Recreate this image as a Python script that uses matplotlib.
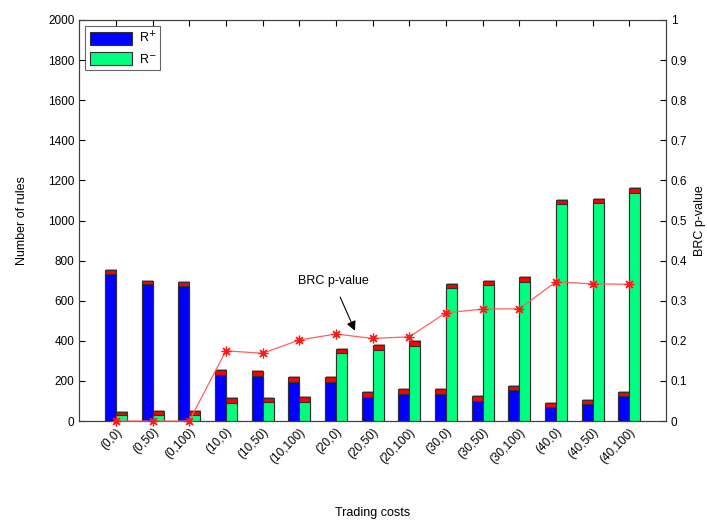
import matplotlib
matplotlib.use("Agg")
import matplotlib.pyplot as plt
import numpy as np

plt.rcParams['font.family'] = ['Liberation Sans', 'DejaVu Sans']

cost_labels = ['(0,0)', '(0,50)', '(0,100)', '(10,0)', '(10,50)', '(10,100)',
               '(20,0)', '(20,50)', '(20,100)', '(30,0)', '(30,50)', '(30,100)',
               '(40,0)', '(40,50)', '(40,100)']
pos_rules = [733, 682, 673, 230, 227, 193, 195, 120, 135, 135, 102, 153, 70, 85, 123]
pos_total = [753, 700, 693, 255, 250, 218, 218, 143, 160, 160, 123, 173, 88, 107, 143]
neg_rules = [30, 30, 31, 88, 93, 93, 337, 355, 373, 663, 677, 693, 1083, 1088, 1138]
neg_total = [43, 48, 48, 113, 117, 120, 357, 378, 400, 685, 697, 717, 1100, 1108, 1160]
brc_p = [0, 0, 0, 0.175, 0.169, 0.202, 0.217, 0.206, 0.21, 0.27, 0.279, 0.28,
         0.347, 0.342, 0.341]

x = np.arange(1, len(cost_labels) + 1)
w = 0.3
edge = '#303030'

fig = plt.figure(figsize=(7.07, 5.25), dpi=100)
ax = fig.add_axes([0.112, 0.198, 0.83, 0.764])

# shadows, red caps, then the coloured parts
for off, tot in [(-w / 2, pos_total), (w / 2, neg_total)]:
    ax.bar(x + off + 0.025, np.array(tot) + 5, w, color='#a8a8a8', zorder=1)
    ax.bar(x + off, tot, w, color='#ff0000', edgecolor=edge, linewidth=0.8, zorder=2)
ax.bar(x - w / 2, pos_rules, w, color='#0000ff', edgecolor=edge, linewidth=0.8,
       zorder=3, label='R$^{+}$')
ax.bar(x + w / 2, neg_rules, w, color='#00ff80', edgecolor=edge, linewidth=0.8,
       zorder=3, label='R$^{-}$')

ax.set_xlim(0, 16)
ax.set_ylim(0, 2000)
ax.set_yticks(np.arange(0, 2001, 200))
ax.set_xticks(x)
ax.set_xticklabels(cost_labels, rotation=45, ha='right', rotation_mode='anchor')
ax.tick_params(direction='in', labelsize=8.5, top=True, length=4)
ax.set_ylabel('Number of rules', fontsize=9, labelpad=14)
ax.set_xlabel('Trading costs', fontsize=9, labelpad=30)
leg = ax.legend(loc='upper left', fontsize=9, fancybox=False, edgecolor='#404040',
                handlelength=3.4, handleheight=1.2, borderaxespad=0.5,
                borderpad=0.35, handletextpad=0.5)
leg.get_frame().set_linewidth(0.8)

ax2 = ax.twinx()
ax2.plot(x, brc_p, color='#ff6060', linewidth=0.9, marker=(8, 2, 0), markersize=7,
         markeredgewidth=0.9, markeredgecolor='#ff1a1a', clip_on=False, zorder=5)
ax2.set_ylim(0, 1)
ax2.set_yticks(np.arange(0, 1.01, 0.1))
ax2.set_yticklabels(['0', '0.1', '0.2', '0.3', '0.4', '0.5', '0.6', '0.7', '0.8', '0.9', '1'])
ax2.tick_params(direction='in', labelsize=8.5, length=4)
ax2.set_ylabel('BRC p-value', fontsize=9, labelpad=5)
ax2.annotate('BRC p-value', xy=(7.52, 0.225), xytext=(6.92, 0.35),
             ha='center', va='center', fontsize=9,
             arrowprops=dict(arrowstyle='-|>', color='black', lw=0.8,
                             mutation_scale=14, shrinkA=6, shrinkB=0))

for a in (ax, ax2):
    for s in a.spines.values():
        s.set_color('#404040')

fig.savefig('out.png', dpi=100)
